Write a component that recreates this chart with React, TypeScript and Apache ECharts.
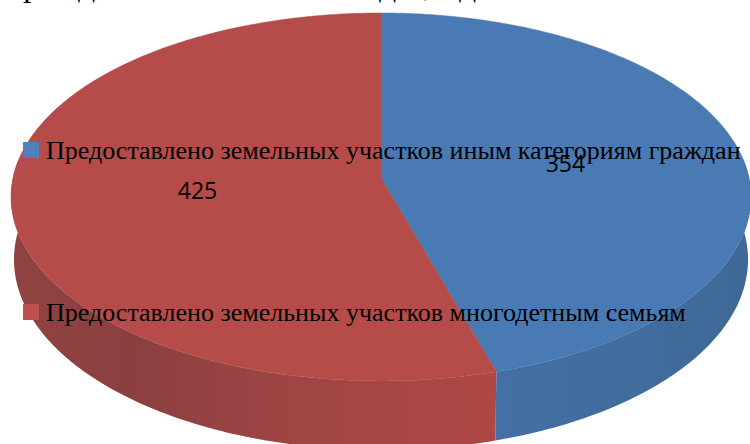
import React, { useEffect, useRef } from "react";
import * as echarts from "echarts";

const categories = [
  "Предоставлено земельных участков иным категориям граждан",
  "Предоставлено земельных участков многодетным семьям",
];
const values = [354, 425];
const colors = ["#4a7ab4", "#b54c4a"];
const legendColors = ["#4f81bd", "#c0504d"];
const wallStops = [
  [[0, "#4570a6"], [1, "#3e6895"]],
  [[0, "#8f4341"], [0.25, "#8b403f"], [0.6, "#a04544"], [1, "#ae4846"]],
];
const wallSpan = [[498, 750], [11, 498]];
const labelRadius = [0.51, 0.5];
const clippedTitleGlyphs = [
  { text: "р", x: 23 },
  { text: "д", x: 78 },
  { text: "д", x: 379 },
  { text: ",", x: 423 },
  { text: "д", x: 459 },
];

const total = values.reduce((a, b) => a + b, 0);
const CX = 381, CY = 178, R = 368, S = 182, P = 0.103, DEPTH = 62, BOTTOM_SCALE = 0.992;

function top(a: number, f = 1) {
  const s = Math.sin(a) * f, c = Math.cos(a) * f, w = 1 + P * c;
  return [CX + (R * s) / w, CY - (S * c) / w];
}
function bottom(a: number) {
  const s = Math.sin(a), c = Math.cos(a), w = 1 + P * c;
  return [CX + (BOTTOM_SCALE * R * s) / w, CY - (S * c) / w + DEPTH / w];
}

const renderSlice = (index: number) => (_params: any, api: any) => {
  const before = values.slice(0, index).reduce((a, b) => a + b, 0);
  const start = (before / total) * Math.PI * 2;
  const end = start + (api.value(0) / total) * Math.PI * 2;
  const steps = Math.ceil(((end - start) * 180) / Math.PI);
  const children: any[] = [];
  const upper: number[][] = [];
  const lower: number[][] = [];
  for (let i = 0; i <= steps; i++) {
    const a = start + ((end - start) * i) / steps;
    if (Math.cos(a) > 0.12) continue;
    upper.push(top(a));
    lower.push(bottom(a));
  }
  const [x0, x1] = wallSpan[index];
  const wallFill = {
    type: "linear",
    x: x0,
    y: 0,
    x2: x1,
    y2: 0,
    global: true,
    colorStops: wallStops[index].map(([offset, color]) => ({ offset, color })),
  };
  children.push({
    type: "polygon",
    shape: { points: [...upper, ...lower.reverse()] },
    style: { fill: wallFill },
  });
  const pts: number[][] = [[CX, CY]];
  for (let i = 0; i <= steps; i++) pts.push(top(start + ((end - start) * i) / steps));
  children.push({
    type: "polygon",
    shape: { points: pts },
    style: { fill: colors[index], stroke: colors[index], lineWidth: 0.5 },
  });
  const lp = top((start + end) / 2, labelRadius[index]);
  children.push({
    type: "text",
    style: {
      x: lp[0],
      y: lp[1] - 1.5,
      text: String(api.value(0)),
      fill: "#000",
      font: '23px "Open Sans"',
      align: "center",
      verticalAlign: "middle",
    },
  });
  return { type: "group", children };
};

const legendBase = {
  orient: "vertical" as const,
  itemWidth: 16,
  itemHeight: 16,
  itemGap: 0,
  selectedMode: false,
  icon: "rect",
  padding: 0,
  textStyle: { fontFamily: "Liberation Serif", fontSize: 26, color: "#000", padding: [0, 0, 0, 2] },
};

export default function App() {
  const ref = useRef<HTMLDivElement>(null);
  useEffect(() => {
    const chart = echarts.init(ref.current!, undefined, { renderer: "svg" });
    chart.setOption({
      animation: false,
      backgroundColor: "#ffffff",
      legend: [
        { ...legendBase, left: 23, top: 137, data: [{ name: categories[0], itemStyle: { color: legendColors[0] } }] },
        { ...legendBase, left: 23, top: 299, data: [{ name: categories[1], itemStyle: { color: legendColors[1] } }] },
      ],
      graphic: clippedTitleGlyphs.map((g) => ({
        type: "text",
        x: g.x,
        y: -33,
        silent: true,
        style: { text: g.text, font: '34px "Liberation Serif"', fill: "#000" },
      })),
      series: categories.map((name, i) => ({
        type: "custom",
        name,
        coordinateSystem: "none",
        renderItem: renderSlice(i),
        itemStyle: { color: colors[i] },
        data: [[values[i]]],
        z: i === 0 ? 1 : 2,
      })),
    });
    return () => chart.dispose();
  }, []);
  return <div ref={ref} style={{ position: "absolute", left: 0, top: 0, width: 750, height: 444 }} />;
}
